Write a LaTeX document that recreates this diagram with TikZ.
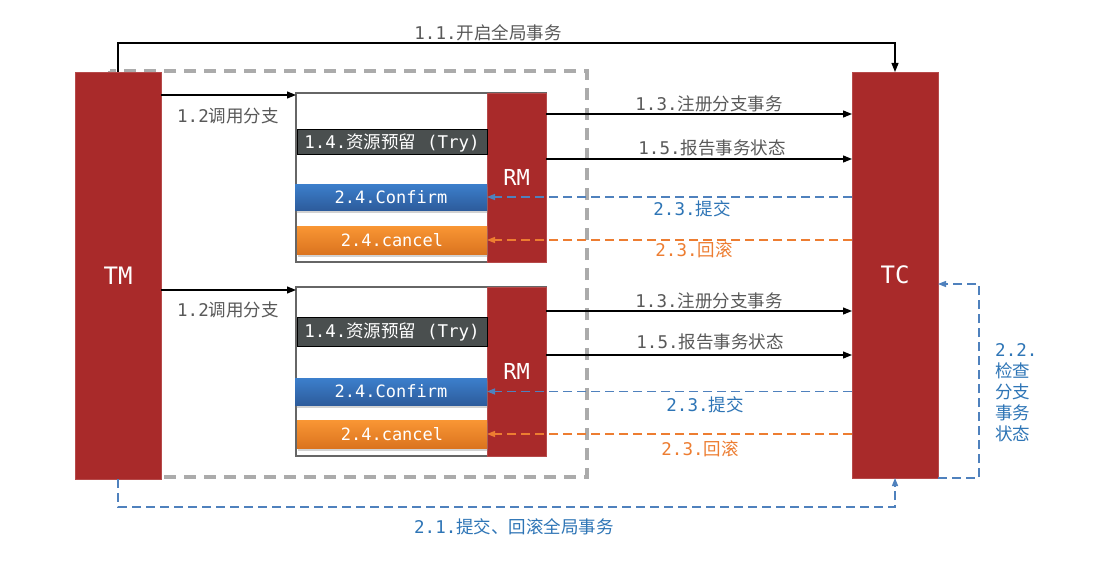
\documentclass[tikz,border=0pt]{standalone}
\usepackage{fontspec}
\setmainfont{DejaVu Sans Mono}
\newfontfamily\cjk{Noto Sans CJK SC}
\usetikzlibrary{arrows.meta,shadows,calc}
\definecolor{tmred}{HTML}{A92A2A}
\definecolor{dashgray}{HTML}{ABABAB}
\definecolor{txtgray}{HTML}{595959}
\definecolor{lnblue}{HTML}{4F81BD}
\definecolor{txtblue}{HTML}{2E75B6}
\definecolor{lnorange}{HTML}{ED7D31}
\definecolor{trybg}{HTML}{4A4F4F}
\definecolor{conftop}{HTML}{3C7FCC}
\definecolor{confbot}{HTML}{2D5C9C}
\definecolor{canctop}{HTML}{F99634}
\definecolor{cancbot}{HTML}{DB741F}
\begin{document}
\begin{tikzpicture}[x=1pt,y=-1pt,
  redbox/.style={fill=tmred, draw=tmred!85!white, line width=0.6pt, inner sep=0pt, outer sep=0pt, text=white},
  branchbox/.style={draw=black!60, fill=white, line width=1.2pt, inner sep=0pt, outer sep=0pt},
  trybox/.style={fill=trybg, draw=black, line width=1pt, text=white, inner sep=0pt, outer sep=0pt, font=\fontsize{17.5}{20}\selectfont},
  confbox/.style={top color=conftop, bottom color=confbot, draw=none, text=white, inner sep=0pt, outer sep=0pt, font=\fontsize{17}{20}\selectfont, drop shadow={shadow xshift=1pt, shadow yshift=-3pt, opacity=0.35}},
  cancbox/.style={top color=canctop, bottom color=cancbot, draw=none, text=white, inner sep=0pt, outer sep=0pt, font=\fontsize{17}{20}\selectfont, drop shadow={shadow xshift=1pt, shadow yshift=-3pt, opacity=0.35}},
  arr/.style={draw=black, line width=1.2pt, -{Triangle[length=9pt,width=7pt]}},
  bluearr/.style={draw=lnblue, line width=1.4pt, dash pattern=on 9pt off 5pt, -{Triangle[length=8pt,width=6pt]}},
  orarr/.style={draw=lnorange, line width=1.4pt, dash pattern=on 9pt off 5pt, -{Triangle[length=8pt,width=6pt]}},
  graylbl/.style={text=txtgray, inner sep=1pt, font=\fontsize{17.5}{20}\selectfont},
  bluelbl/.style={text=txtblue, inner sep=1pt, font=\fontsize{17.5}{20}\selectfont},
  orlbl/.style={text=lnorange, inner sep=1pt, font=\fontsize{17.5}{20}\selectfont},
]
\useasboundingbox (0,0) rectangle (1099,580);
\fill[white] (0,0) rectangle (1099,580);

% dashed container
\draw[dashgray, line width=3.2pt, dash pattern=on 12pt off 8pt] (110,71) rectangle (587,477);

% main actors
\node[redbox, minimum width=86pt, minimum height=407pt, font=\fontsize{24}{28}\selectfont] (tm) at (118,275.5) {TM};
\node[redbox, minimum width=86pt, minimum height=406pt, font=\fontsize{24}{28}\selectfont] (tc) at (895,275) {TC};

% branch 1
\node[branchbox, minimum width=250pt, minimum height=169pt] (box1) at (421,177.5) {};
\node[redbox, minimum width=59pt, minimum height=169pt, font=\fontsize{22}{26}\selectfont] (rm1) at (516.5,177.5) {RM};
\node[trybox, minimum width=190pt, minimum height=25pt] (try1) at (392,142.5) {1.4.{\cjk 资源预留}\ (Try)};
\node[confbox, minimum width=192pt, minimum height=26pt] (conf1) at (391,197) {2.4.Confirm};
\node[cancbox, minimum width=190pt, minimum height=28pt] (canc1) at (392,240) {2.4.cancel};

% branch 2
\node[branchbox, minimum width=250pt, minimum height=169pt] (box2) at (421,371.5) {};
\node[redbox, minimum width=59pt, minimum height=169pt, font=\fontsize{22}{26}\selectfont] (rm2) at (516.5,371.5) {RM};
\node[trybox, minimum width=190pt, minimum height=29pt] (try2) at (392,332) {1.4.{\cjk 资源预留}\ (Try)};
\node[confbox, minimum width=192pt, minimum height=27pt] (conf2) at (391,391.5) {2.4.Confirm};
\node[cancbox, minimum width=190pt, minimum height=28pt] (canc2) at (392,434) {2.4.cancel};

% helper coordinates
\coordinate (y13a) at (0,114);
\coordinate (y15a) at (0,159);
\coordinate (y13b) at (0,311);
\coordinate (y15b) at (0,355);
\coordinate (y22) at (0,284);

% 1.1
\draw[arr] (tm.north) -- ++(0,-29) -| (tc.north);
\node[graylbl] (l11) at (488,33) {1.1.{\cjk 开启全局事务}};

% 1.2
\draw[arr] ($(tm.north east)+(0,23)$) -- ($(box1.north west)+(0,2)$);
\node[graylbl] (l12a) at (228,116) {1.2{\cjk 调用分支}};
\draw[arr] ($(tm.north east)+(0,218)$) -- ($(box2.north west)+(0,3)$);
\node[graylbl] (l12b) at (228,310) {1.2{\cjk 调用分支}};

% branch 1 to TC
\draw[arr] (rm1.east |- y13a) -- (tc.west |- y13a);
\node[graylbl] (l13a) at (709,104) {1.3.{\cjk 注册分支事务}};
\draw[arr] (rm1.east |- y15a) -- (tc.west |- y15a);
\node[graylbl] (l15a) at (712,148) {1.5.{\cjk 报告事务状态}};
\draw[bluearr] (tc.west |- conf1) -- (conf1.east);
\node[bluelbl] (l23a) at (692,209) {2.3.{\cjk 提交}};
\draw[orarr] (tc.west |- canc1) -- (canc1.east);
\node[orlbl] (l23ra) at (694,250) {2.3.{\cjk 回滚}};

% branch 2 to TC
\draw[arr] (rm2.east |- y13b) -- (tc.west |- y13b);
\node[graylbl] (l13b) at (709,301) {1.3.{\cjk 注册分支事务}};
\draw[arr] (rm2.east |- y15b) -- (tc.west |- y15b);
\node[graylbl] (l15b) at (710,342) {1.5.{\cjk 报告事务状态}};
\draw[bluearr] (tc.west |- conf2) -- (conf2.east);
\node[bluelbl] (l23b) at (705,405) {2.3.{\cjk 提交}};
\draw[orarr] (tc.west |- canc2) -- (canc2.east);
\node[orlbl] (l23rb) at (700,449) {2.3.{\cjk 回滚}};

% 2.2 loop
\draw[bluearr] (tc.south east) -- ++(41,0) |- (tc.east |- y22);
\node[bluelbl, anchor=north west, align=left, font=\fontsize{17.5}{21}\selectfont] (l22) at (994,342) {2.2.\\{\cjk 检查}\\{\cjk 分支}\\{\cjk 事务}\\{\cjk 状态}};

% 2.1 loop
\draw[bluearr] (tm.south) -- ++(0,28) -| (tc.south);
\node[bluelbl] (l21) at (514,527) {2.1.{\cjk 提交、回滚全局事务}};
\end{tikzpicture}
\end{document}
